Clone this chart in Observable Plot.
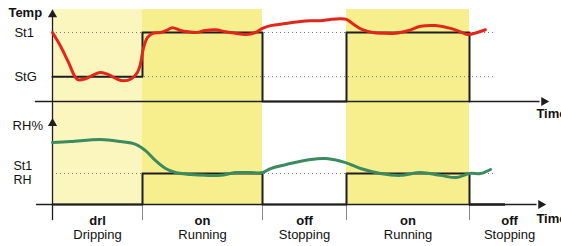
<!DOCTYPE html>
<html><head><meta charset="utf-8">
<script src="https://cdn.jsdelivr.net/npm/d3@7"></script>
<script src="https://cdn.jsdelivr.net/npm/@observablehq/plot@0.6"></script>
<style>
body{margin:0;background:#fff;}
#chart{width:561px;}
#chart svg{display:block;overflow:visible;}
</style>
</head><body><div id="chart"></div>
<script>
// Phases (time in minutes)
const phaseStart = [0, 30, 70, 98, 139];
const phaseEnd = [30, 70, 98, 139, 165.7];
const phaseCode = ["drl", "on", "off", "on", "off"];
const phaseName = ["Dripping", "Running", "Stopping", "Running", "Stopping"];
const phaseShade = ["drip", "run", "none", "run", "none"];
// Setpoints
const St1 = 10, StG = 3.6, St1RH = 10;
const tempSetpoint = [3.6, 10, 0, 10, 0];
const rhSetpoint = [0, 10, 0, 10, 0];
// Temperature curve
const tempTime = [0, 2.7, 5.3, 8.3, 11, 13.3, 16, 18.7, 21.3, 23.7, 26.3, 28.3, 29.3, 30.3, 31.7, 33.7, 36, 38, 40, 42.7, 45.3, 48, 51, 54.3, 57.7, 61, 64.3, 67.7, 70, 72.7, 77.7, 82.7, 86, 89.3, 92.7, 96, 98, 100, 103.3, 106.7, 110, 114.3, 118.7, 122.7, 127.7, 132.7, 136, 138.3, 140.7, 144.3];
const tempValue = [10.0, 8.0, 5.7, 3.2, 3.3, 3.8, 4.2, 3.9, 3.3, 3.0, 3.3, 4.2, 5.4, 7.7, 9.3, 9.9, 10.0, 10.3, 10.7, 10.3, 10.1, 10.0, 10.3, 10.4, 10.1, 9.9, 9.7, 10.0, 10.6, 11.0, 11.3, 11.6, 11.7, 11.7, 11.9, 12.0, 11.9, 11.3, 10.4, 10.0, 9.9, 9.9, 10.3, 10.9, 11.0, 10.6, 10.1, 9.7, 9.9, 10.4];
// Humidity curve
const rhTime = [0, 6, 16, 22.7, 27.7, 31, 34.3, 37.7, 41, 46, 51, 56, 61, 66, 70, 72.7, 79.3, 86, 91, 97.7, 102.7, 109.3, 116, 122.7, 129.3, 134.7, 139, 142.7, 146];
const rhValue = [20.0, 20.3, 21.0, 20.3, 19.4, 17.4, 14.2, 11.6, 10.3, 9.7, 9.4, 9.4, 10.3, 10.3, 10.3, 11.6, 13.2, 14.5, 14.8, 13.5, 11.6, 10.0, 9.4, 10.3, 9.4, 8.7, 10.0, 10.0, 11.3];

const shadeColor = {drip: "#fbf5be", run: "#f7ef8d"};
const phases = phaseStart.map((s, i) => ({start: s, end: phaseEnd[i], mid: (s + phaseEnd[i]) / 2,
  code: phaseCode[i], name: phaseName[i], shade: phaseShade[i], tset: tempSetpoint[i], rset: rhSetpoint[i]}));
const shaded = phases.filter(d => d.shade !== "none");
const temp = tempTime.map((t, i) => ({t, v: tempValue[i]}));
const rh = rhTime.map((t, i) => ({t, v: rhValue[i]}));

const font = "Liberation Sans, Arial, Helvetica, sans-serif";
const ink = "#1e1e1e";
const xScale = {type: "linear", domain: [0, 30], range: [52, 142]};

const topPanel = Plot.plot({
  width: 561, height: 120, margin: 0,
  style: {fontFamily: font, overflow: "visible", background: "transparent"},
  x: {...xScale, axis: null},
  y: {type: "linear", domain: [0, 10], range: [101, 32], axis: null},
  marks: [
    Plot.rect(shaded, {x1: "start", x2: "end", y1: -2.76, y2: 13.33, fill: d => shadeColor[d.shade]}),
    Plot.ruleY([St1], {x1: 0, x2: 147, stroke: "#777", strokeDasharray: "1,3", strokeWidth: 1}),
    Plot.ruleY([StG], {x1: 0, x2: 147, stroke: "#777", strokeDasharray: "1,3", strokeWidth: 1}),
    Plot.ruleY([0], {x1: -5.7, x2: 162.5, stroke: ink, strokeWidth: 1.3}),
    Plot.ruleX([0], {y1: -2.76, y2: 12.4, stroke: ink, strokeWidth: 1.3}),
    Plot.dot([{t: 163.8, v: 0}], {x: "t", y: "v", symbol: "triangle", rotate: 90, r: 3.4, fill: ink, stroke: null}),
    Plot.dot([{t: 0, v: 12.6}], {x: "t", y: "v", symbol: "triangle", r: 3.4, fill: ink, stroke: null}),
    Plot.line(phases, {x: "start", y: "tset", curve: "step-after", stroke: ink, strokeWidth: 2}),
    Plot.line(temp, {x: "t", y: "v", curve: "catmull-rom", stroke: "#e2261b", strokeWidth: 3}),
    Plot.text(["Temp"], {x: -14.7, y: 12.8, textAnchor: "start", fontWeight: "bold", fontSize: 13, fill: "#111"}),
    Plot.text(["St1"], {x: -12.7, y: St1, textAnchor: "start", fontSize: 13, fill: "#111"}),
    Plot.text(["StG"], {x: -12.7, y: StG, textAnchor: "start", fontSize: 13, fill: "#111"}),
    Plot.text(["Time"], {x: 161.3, y: -1.74, textAnchor: "start", fontWeight: "bold", fontSize: 13, fill: "#111"})
  ]
});

const bottomPanel = Plot.plot({
  width: 561, height: 126, margin: 0,
  style: {fontFamily: font, overflow: "visible", background: "transparent"},
  x: {...xScale, axis: null},
  y: {type: "linear", domain: [0, 10], range: [84, 53], axis: null},
  marks: [
    Plot.rect(shaded, {x1: "start", x2: "end", y1: 0, y2: 27.1, fill: d => shadeColor[d.shade]}),
    Plot.ruleY([St1RH], {x1: 0, x2: 147, stroke: "#777", strokeDasharray: "1,3", strokeWidth: 1}),
    Plot.ruleX(phaseStart.slice(1), {y1: 0, y2: -5.2, stroke: "#888", strokeWidth: 1}),
    Plot.ruleX([0], {y1: -5.2, y2: 27.1, stroke: ink, strokeWidth: 1.3}),
    Plot.ruleY([0], {x1: -5.3, x2: 161.5, stroke: ink, strokeWidth: 1.3}),
    Plot.dot([{t: 162.8, v: 0}], {x: "t", y: "v", symbol: "triangle", rotate: 90, r: 3.4, fill: ink, stroke: null}),
    Plot.dot([{t: 0, v: 26.2}], {x: "t", y: "v", symbol: "triangle", r: 3.4, fill: ink, stroke: null}),
    Plot.line(phases, {x: "start", y: "rset", curve: "step-after", stroke: ink, strokeWidth: 2}),
    Plot.ruleY([0], {x1: 139, x2: 151, stroke: ink, strokeWidth: 2.6}),
    Plot.line(rh, {x: "t", y: "v", curve: "catmull-rom", stroke: "#3b8a60", strokeWidth: 3}),
    Plot.text(["RH%"], {x: -13.3, y: 25.5, textAnchor: "start", fontSize: 13, fill: "#111"}),
    Plot.text(["St1"], {x: -13, y: 12.5, textAnchor: "start", fontSize: 12.5, fill: "#111"}),
    Plot.text(["RH"], {x: -13, y: 8.0, textAnchor: "start", fontSize: 12.5, fill: "#111"}),
    Plot.text(phases, {x: "mid", y: -5.2, text: "code", fontWeight: "bold", fontSize: 13, fill: "#111"}),
    Plot.text(phases, {x: "mid", y: -9.7, text: "name", fontSize: 13, fill: "#111"}),
    Plot.text(["Time"], {x: 161.3, y: -4.5, textAnchor: "start", fontWeight: "bold", fontSize: 13, fill: "#111"})
  ]
});

const chart = document.getElementById("chart");
chart.appendChild(topPanel);
chart.appendChild(bottomPanel);
</script>
</body></html>
